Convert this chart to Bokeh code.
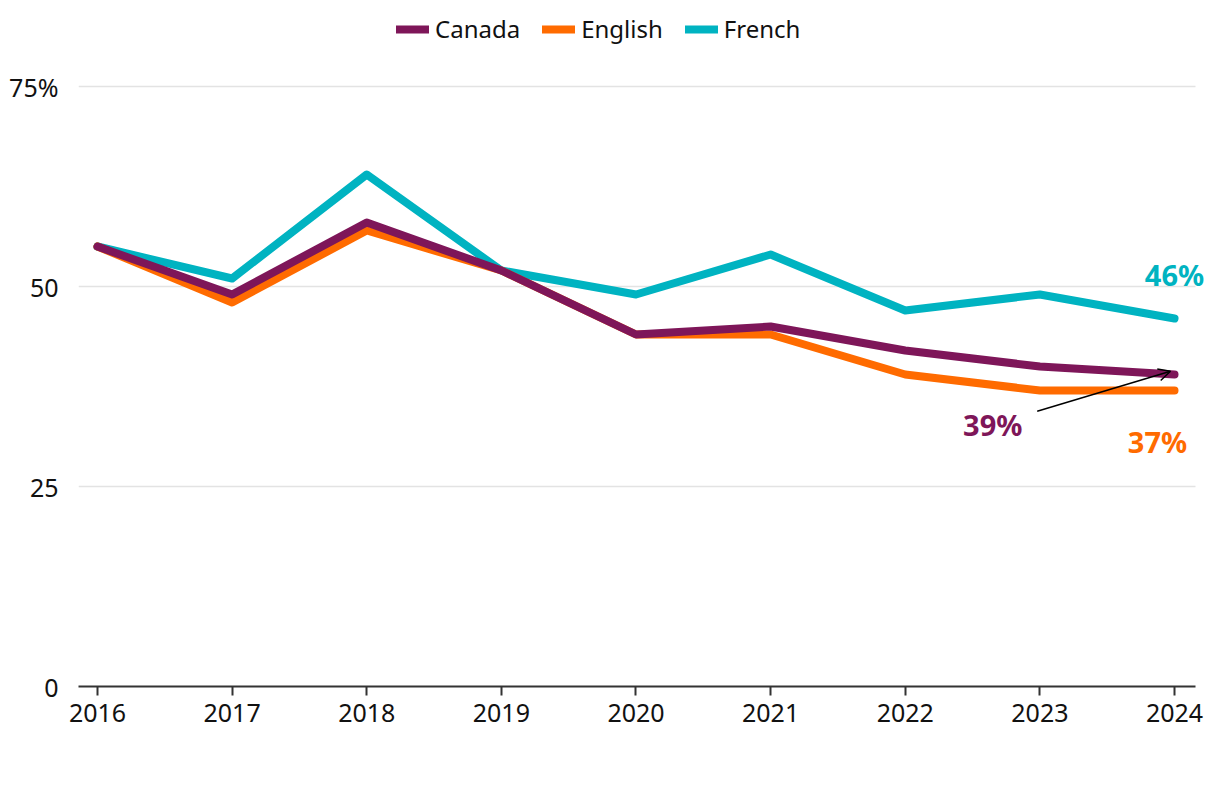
from bokeh.plotting import figure
from bokeh.models import Range1d, FixedTicker, Legend, LegendItem, Arrow, OpenHead, Label
from bokeh.embed import file_html
from bokeh.resources import INLINE

years = [2016, 2017, 2018, 2019, 2020, 2021, 2022, 2023, 2024]
canada = [55, 49, 58, 52, 44, 45, 42, 40, 39]
english = [55, 48, 57, 52, 44, 44, 39, 37, 37]
french = [55, 51, 64, 52, 49, 54, 47, 49, 46]
y_ticks = [0, 25, 50, 75]
y_labels = {0: "0", 25: "25", 50: "50", 75: "75%"}

C_CAN = "#7e1659"
C_ENG = "#ff6b00"
C_FR = "#00b3c1"
FONT = "Noto Sans"

X0, X1, XAX = 2015.859, 2024.297, 2024.156
Y_TOP = 85.75  # headroom above the 75 line, used for the legend

p = figure(width=1220, height=780, output_backend="svg", toolbar_location=None,
           x_range=Range1d(X0, X1), y_range=Range1d(0, Y_TOP),
           min_border_left=78, min_border_right=6, min_border_top=0, min_border_bottom=94)
p.outline_line_color = None
p.background_fill_color = "white"
p.border_fill_color = "white"

# horizontal gridlines limited to the axis extent
grid_y = [t for t in y_ticks if t > 0]
p.segment(x0=[X0] * len(grid_y), x1=[XAX] * len(grid_y), y0=grid_y, y1=grid_y,
          line_color="#e3e3e3", line_width=1.5)

rf = p.line(years, french, line_color=C_FR, line_width=8, line_cap="round", line_join="round")
re = p.line(years, english, line_color=C_ENG, line_width=8, line_cap="round", line_join="round")
rc = p.line(years, canada, line_color=C_CAN, line_width=8, line_cap="round", line_join="round")

p.xaxis.ticker = FixedTicker(ticks=years)
p.xaxis.bounds = (X0, XAX)
p.xaxis.axis_line_color = "#333333"
p.xaxis.axis_line_width = 2
p.xaxis.major_tick_line_color = "#333333"
p.xaxis.major_tick_line_width = 2
p.xaxis.major_tick_out = 9
p.xaxis.major_tick_in = 0
p.xaxis.minor_tick_line_color = None
p.xaxis.major_label_text_font = FONT
p.xaxis.major_label_text_font_size = "25px"
p.xaxis.major_label_text_color = "#111111"
p.xaxis.major_label_standoff = 8

p.yaxis.ticker = FixedTicker(ticks=y_ticks)
p.yaxis.major_label_overrides = y_labels
p.yaxis.axis_line_color = None
p.yaxis.major_tick_line_color = None
p.yaxis.minor_tick_line_color = None
p.yaxis.major_label_text_font = FONT
p.yaxis.major_label_text_font_size = "25px"
p.yaxis.major_label_text_color = "#111111"
p.yaxis.major_label_standoff = 14

p.xgrid.grid_line_color = None
p.ygrid.grid_line_color = None

legend = Legend(items=[LegendItem(label="Canada", renderers=[rc]),
                       LegendItem(label="English", renderers=[re]),
                       LegendItem(label="French", renderers=[rf])],
                orientation="horizontal", location=(318, 641),
                label_text_font=FONT, label_text_font_size="24px", label_text_color="#111111",
                glyph_width=33, glyph_height=20, label_standoff=6, spacing=22,
                padding=0, margin=0, border_line_color=None, background_fill_alpha=0)
p.add_layout(legend, "center")

# end labels
p.add_layout(Label(x=years[-1], y=french[-1] + 5.5, text="46%", text_align="center", text_baseline="middle",
                   text_font=FONT, text_font_style="bold", text_font_size="29px", text_color=C_FR))
p.add_layout(Label(x=years[-1], y=english[-1] - 6.4, x_offset=-17, text="37%", text_align="center",
                   text_baseline="middle", text_font=FONT, text_font_style="bold", text_font_size="29px",
                   text_color=C_ENG))
p.add_layout(Label(x=2022.65, y=canada[-1] - 6.25, text="39%", text_align="center", text_baseline="middle",
                   text_font=FONT, text_font_style="bold", text_font_size="29px", text_color=C_CAN))
p.add_layout(Arrow(x_start=2022.98, y_start=canada[-1] - 4.6, x_end=years[-1] - 0.03, y_end=canada[-1] + 0.4,
                   line_color="black", line_width=1.5,
                   end=OpenHead(size=12, line_color="black", line_width=1.5)))

open("out.html", "w").write(file_html(p, INLINE))
